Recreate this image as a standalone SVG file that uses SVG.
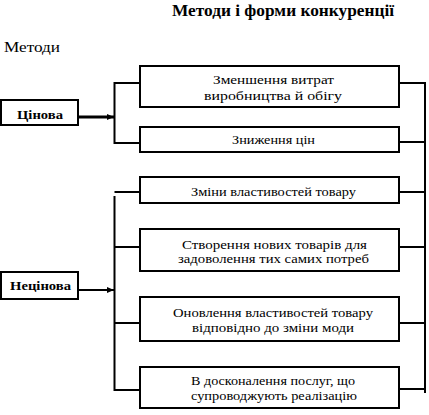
<svg xmlns="http://www.w3.org/2000/svg" width="429" height="415" viewBox="0 0 429 415" xml:space="preserve">
<style>
.box{fill:#fff;stroke:#000;stroke-width:2}
.ln{fill:none;stroke:#000;stroke-width:2}
.t{font-family:"Liberation Serif","Times New Roman",serif;font-size:13px;fill:#000}
.m{font-size:14px}
.b{font-weight:bold;font-size:13px}
.h{font-weight:bold;font-size:16px}
</style>
<defs>
<marker id="ah2" markerWidth="7" markerHeight="6" refX="7" refY="3" orient="auto" markerUnits="userSpaceOnUse" viewBox="0 0 7 6"><path d="M0,0 L7,3 L0,6 Z" fill="#000"/></marker>
</defs>
<text class="t h" x="172" y="16" textLength="222" lengthAdjust="spacingAndGlyphs">Методи і  форми конкуренції</text>
<text class="t m" x="4" y="52" textLength="56" lengthAdjust="spacingAndGlyphs">Методи</text>
<g id="connectors">
<path class="ln" d="M140,83 H114.5 V143 H140"/>
<path class="ln" d="M140,192 H114.5 M114.5,196 V390 H140 M114.5,247 H140 M114.5,323 H140"/>
<path class="ln" d="M399,83 H425 V393 M399,142 H425 M399,192 H425 M399,247 H425 M399,323 H425 M399,389 H425"/>
<line x1="79" y1="117" x2="114" y2="117" stroke="#000" stroke-width="3" marker-end="url(#ah2)"/>
<line x1="79" y1="290" x2="114" y2="290" stroke="#000" stroke-width="2" marker-end="url(#ah2)"/>
</g>
<g id="tsinova">
<rect class="box" x="1" y="100" width="77" height="25"/>
<text class="t b" x="17" y="119" textLength="46" lengthAdjust="spacingAndGlyphs">Цінова</text>
</g>
<g id="netsinova">
<rect class="box" x="1" y="272" width="77" height="27"/>
<text class="t b" x="10" y="290" textLength="61" lengthAdjust="spacingAndGlyphs">Нецінова</text>
</g>
<g id="n1">
<rect class="box" x="140" y="66" width="259" height="41"/>
<text class="t" x="213" y="84" textLength="121" lengthAdjust="spacingAndGlyphs">Зменшення  витрат</text>
<text class="t" x="204" y="100" textLength="138" lengthAdjust="spacingAndGlyphs">виробництва  й  обігу</text>
</g>
<g id="n2">
<rect class="box" x="140" y="127" width="259" height="25"/>
<text class="t" x="232" y="144" textLength="83" lengthAdjust="spacingAndGlyphs">Зниження цін</text>
</g>
<g id="n3">
<rect class="box" x="140" y="177" width="259" height="26"/>
<text class="t" x="191" y="196" textLength="165" lengthAdjust="spacingAndGlyphs">Зміни властивостей товару</text>
</g>
<g id="n4">
<rect class="box" x="140" y="229" width="259" height="42"/>
<text class="t" x="182" y="249" textLength="185" lengthAdjust="spacingAndGlyphs">Створення  нових товарів  для</text>
<text class="t" x="178" y="263" textLength="191" lengthAdjust="spacingAndGlyphs">задоволення  тих самих потреб</text>
</g>
<g id="n5">
<rect class="box" x="140" y="297" width="259" height="44"/>
<text class="t" x="173" y="317" textLength="200" lengthAdjust="spacingAndGlyphs">Оновлення  властивостей товару</text>
<text class="t" x="192" y="332" textLength="162" lengthAdjust="spacingAndGlyphs">відповідно  до зміни моди</text>
</g>
<g id="n6">
<rect class="box" x="140" y="367" width="259" height="41"/>
<text class="t" x="191" y="385" textLength="164" lengthAdjust="spacingAndGlyphs">В досконалення послуг, що</text>
<text class="t" x="191" y="400" textLength="166" lengthAdjust="spacingAndGlyphs">супроводжують реалізацію</text>
</g>
</svg>
